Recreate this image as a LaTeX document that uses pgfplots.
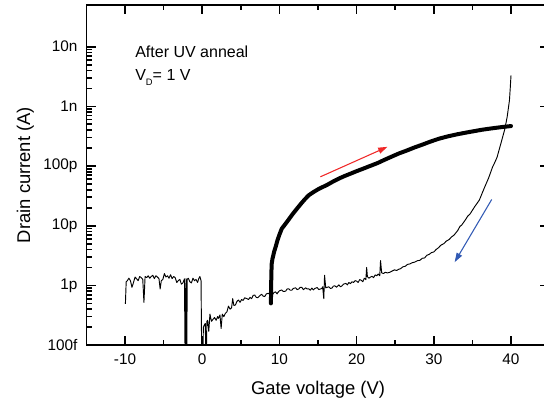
\documentclass[border=0pt]{standalone}
\usepackage{fontspec}
\setmainfont{Liberation Sans}
\usepackage{pgfplots}
\pgfplotsset{compat=1.18}
\usetikzlibrary{arrows.meta}

\definecolor{arrred}{RGB}{240,40,40}
\definecolor{arrblue}{RGB}{50,90,180}

% drain current in pA
\pgfplotstableread{
vg id
8.9 0.50
8.93 1.0
8.96 1.6
9.0 2.29
9.1 2.8
9.2 3.16
9.35 3.8
9.5 4.37
9.75 5.7
10.0 7.08
10.3 8.91
10.6 10.0
11.0 11.7
11.4 13.8
11.8 16.2
12.3 19.5
12.8 23.4
13.3 27.8
13.8 32.4
14.4 36.6
15.0 40.7
15.6 44.5
16.2 48.5
17.0 55.5
17.8 62.5
18.5 68.5
19.2 74.5
20.1 83
21.0 92
21.8 101
22.7 112
23.6 127
24.6 145
25.5 163
26.5 182
27.5 205
28.5 228
29.6 258
30.7 288
31.8 314
33.0 340
34.0 360
35.0 380
36.2 405
37.5 428
38.8 450
40.0 468
}\fwd

\pgfplotstableread{
vg id
40.0 3311
39.9 1995
39.8 1259
39.5 661
39.2 417
38.8 269
38.5 195
38.2 141
37.9 115
37.6 95.5
37.1 63.1
36.5 41.7
35.9 26.9
35.3 20.9
34.7 15.8
34.4 14.5
34.1 12.6
33.6 10.2
33.4 9.8
33.1 8.32
32.6 6.92
32.3 6.5
32.0 5.89
31.6 5.5
31.3 5.01
30.9 4.7
30.6 4.27
30.3 4.0
30.0 3.63
29.7 3.55
29.4 3.31
29.1 3.2
28.8 2.88
28.5 2.85
28.2 2.63
27.9 2.6
27.5 2.45
27.2 2.4
26.9 2.29
26.6 2.25
26.3 2.09
26.0 2.05
25.7 1.91
25.4 1.85
25.2 1.78
24.9 1.82
24.6 1.74
24.3 1.66
24.0 1.62
23.7 1.66
23.5 1.58
23.25 1.62
23.1 2.6
23.0 1.45
22.8 1.55
22.6 1.45
22.4 1.5
22.2 1.35
22.0 1.42
21.8 1.38
21.6 1.32
21.4 1.40
21.3 2.0
21.2 1.25
21.0 1.32
20.8 1.15
20.6 1.22
20.4 1.25
20.2 1.12
20.0 1.18
19.8 1.20
19.6 1.12
19.4 1.15
19.2 1.07
19.0 1.12
18.8 1.02
18.6 1.08
18.3 1.05
18.1 0.98
17.9 0.95
17.7 1.02
17.4 0.93
17.2 0.98
17.0 0.977
16.8 0.90
16.6 0.89
16.4 0.95
16.2 0.93
16.0 0.91
15.85 1.48
15.75 0.60
15.6 0.95
15.5 0.89
15.3 0.87
15.1 0.85
14.9 0.92
14.6 0.89
14.4 0.84
14.2 0.90
14.0 0.83
13.8 0.88
13.6 0.87
13.4 0.91
13.1 0.85
12.9 0.93
12.7 0.93
12.5 0.87
12.3 0.85
12.1 0.91
11.8 0.89
11.6 0.83
11.4 0.83
11.2 0.88
11.0 0.87
10.8 0.80
10.5 0.79
10.3 0.84
10.0 0.81
9.8 0.76
9.7 0.72
9.5 0.78
9.3 0.76
9.1 0.70
8.8 0.68
8.6 0.74
8.3 0.72
8.1 0.65
7.9 0.66
7.7 0.71
7.5 0.68
7.2 0.62
7.0 0.63
6.8 0.69
6.6 0.68
6.4 0.60
6.2 0.63
6.0 0.58
5.8 0.60
5.5 0.62
5.3 0.56
5.1 0.58
4.9 0.52
4.7 0.57
4.5 0.54
4.3 0.47
4.1 0.46
3.95 0.60
3.8 0.42
3.6 0.40
3.4 0.45
3.2 0.36
3.0 0.34
2.8 0.30
2.6 0.33
2.45 0.19
2.3 0.32
2.1 0.28
2.0 0.30
1.8 0.26
1.6 0.29
1.4 0.27
1.2 0.25
1.0 0.33
0.85 0.17
0.7 0.26
0.6 0.25
0.5 0.03
0.4 0.23
0.3 0.22
0.15 0.20
0.05 0.03
-0.05 0.03
-0.15 1.20
-0.3 1.41
-0.45 1.30
-0.6 1.12
-0.8 1.26
-1.0 1.20
-1.2 1.32
-1.4 1.10
-1.6 1.15
-1.8 1.32
-1.95 1.26
-2.0 0.03
-2.1 1.30
-2.2 0.03
-2.3 1.29
-2.5 1.10
-2.7 1.05
-2.9 1.26
-3.1 1.20
-3.3 1.12
-3.5 1.35
-3.7 1.41
-3.9 1.30
-4.1 1.51
-4.3 1.32
-4.5 1.45
-4.7 1.38
-4.9 1.58
-5.1 1.26
-5.3 1.20
-5.45 0.87
-5.6 1.30
-5.8 1.38
-6.0 1.45
-6.2 1.30
-6.4 1.48
-6.6 1.41
-6.8 1.32
-7.0 1.45
-7.2 1.35
-7.4 1.41
-7.55 0.52
-7.7 1.26
-7.9 1.35
-8.1 1.41
-8.3 1.20
-8.5 1.29
-8.7 1.38
-8.9 1.12
-9.1 0.93
-9.3 1.20
-9.5 1.32
-9.7 1.20
-9.85 1.15
-9.95 0.49
}\rev

\begin{document}
\begin{tikzpicture}
% axis sits with its south west corner at (0,0); crop the page like the reference
\useasboundingbox (-64.8pt,-42.75pt) rectangle (343.1pt,258.75pt);
\begin{axis}[
    at={(0pt,0pt)}, anchor=south west,
    scale only axis,
    width=347.3pt, height=255pt,
    xmin=-15, xmax=45,
    ymode=log, ymin=0.1, ymax=5e4,
    xtick={-10,0,10,20,30,40},
    xticklabels={-10,0,10,20,30,40},
    minor x tick num=1,
    ytick={0.1,1,10,100,1000,10000},
    yticklabels={100f,1p,10p,100p,1n,10n},
    ticks=both,
    tick align=inside,
    xtick pos=both, ytick pos=both,
    major tick length=7pt, minor tick length=4pt,
    tick style={draw=black, line width=1.3pt},
    axis background/.style={draw=black, line width=1.2pt},
    x tick label style={font=\fontsize{11.5}{13}\selectfont, anchor=base, yshift=-14.25pt},
    y tick label style={font=\fontsize{11.5}{13}\selectfont, anchor=east, inner sep=0pt, xshift=-6.5pt},
    xlabel={Gate voltage (V)},
    ylabel={Drain current (A)},
    xlabel style={font=\fontsize{13.8}{16}\selectfont, at={(axis description cs:0.5,0)}, anchor=base, yshift=-36.75pt},
    ylabel style={font=\fontsize{13.8}{16}\selectfont, at={(axis description cs:0,0.5)}, anchor=base, yshift=42.3pt},
  ]
  \addplot[black, line width=0.7pt, line join=round] table[x=vg, y=id] {\rev};
  \addplot[black, line width=3pt, line join=round, line cap=round] table[x=vg, y=id] {\fwd};

  \draw[arrred, line width=0.8pt, -{Triangle[length=7pt,width=4.5pt]}]
    (axis cs:15.3,66) -- (axis cs:24.0,210);
  \draw[arrblue, line width=0.8pt, -{Triangle[length=7pt,width=4.5pt]}]
    (axis cs:37.5,27.5) -- (axis cs:32.7,2.45);

  \node[anchor=base west, inner sep=0pt, font=\fontsize{12}{14}\selectfont]
    at (axis cs:-8.7,6500) {After UV anneal};
  \node[anchor=base west, inner sep=0pt, font=\fontsize{12}{14}\selectfont]
    at (axis cs:-8.7,2750) {V\raisebox{-0.35em}{\fontsize{7}{8}\selectfont D}= 1 V};
\end{axis}
\end{tikzpicture}
\end{document}
